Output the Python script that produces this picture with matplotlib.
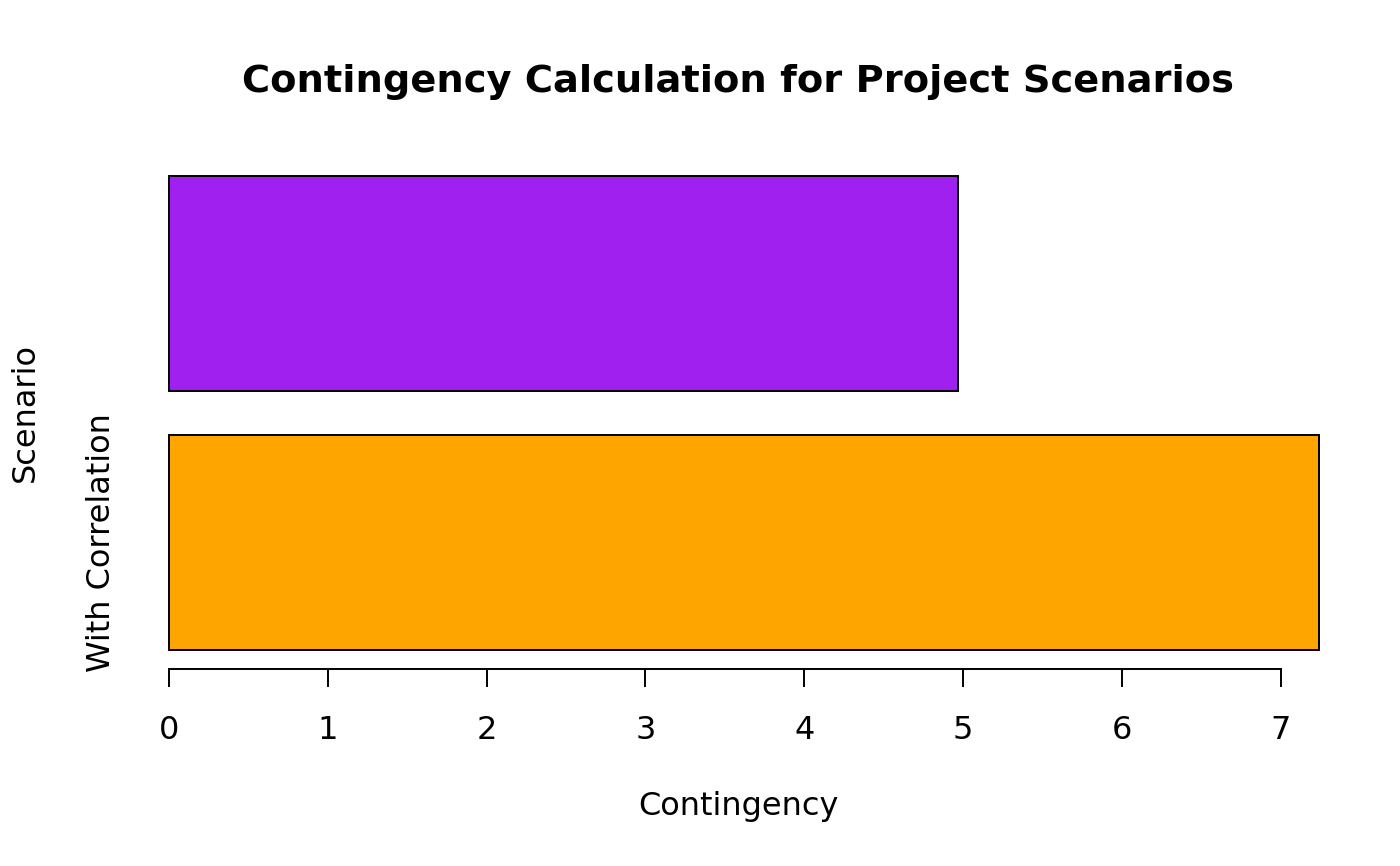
import matplotlib
matplotlib.use("Agg")
import matplotlib.pyplot as plt
import matplotlib.transforms as mtransforms

# data
scenarios = ["With Correlation", "Without Correlation"]
contingency = [7.24, 4.97]
bar_colors = ["#FFA500", "#A020F0"]
# R hides the second name because it would overlap the first
shown_names = ["With Correlation", ""]
xticks = [0, 1, 2, 3, 4, 5, 6, 7]

W, H = 1400, 866
fig = plt.figure(figsize=(W / 100, H / 100), dpi=100)
ax = fig.add_axes([111 / W, 1 - 669 / H, (1365 - 111) / W, (669 - 157) / H])

# R barplot layout: width 1, space 0.2
ypos = [0.2 + 0.5 + i * 1.2 for i in range(len(scenarios))]
ax.barh(ypos, contingency, height=1.0, color=bar_colors,
        edgecolor="black", linewidth=1.4)

ax.set_xlim(-0.365, 7.532)
ax.set_ylim(0.112, 2.488)

for s in ["top", "right", "left"]:
    ax.spines[s].set_visible(False)
ax.spines["bottom"].set_bounds(0, 7)
ax.spines["bottom"].set_linewidth(1.4)
ax.set_xticks(xticks)
ax.set_xticklabels([str(t) for t in xticks])
ax.tick_params(axis="x", length=13, width=1.4, pad=20, labelsize=23)
ax.set_yticks([])

trans = mtransforms.blended_transform_factory(fig.transFigure, ax.transData)
for y, name in zip(ypos, shown_names):
    if name:
        ax.text(101 / W, y, name, transform=trans, rotation=90,
                ha="center", va="center", fontsize=23)

fig.text(738 / W, 1 - 82 / H, "Contingency Calculation for Project Scenarios",
         ha="center", va="center", fontsize=27.6, fontweight="bold")
fig.text(738 / W, 1 - 807 / H, "Contingency", ha="center", va="center", fontsize=23)
fig.text(25 / W, 1 - 413 / H, "Scenario", ha="center", va="center",
         rotation=90, fontsize=23)

fig.savefig("out.png", dpi=100, facecolor="white")
